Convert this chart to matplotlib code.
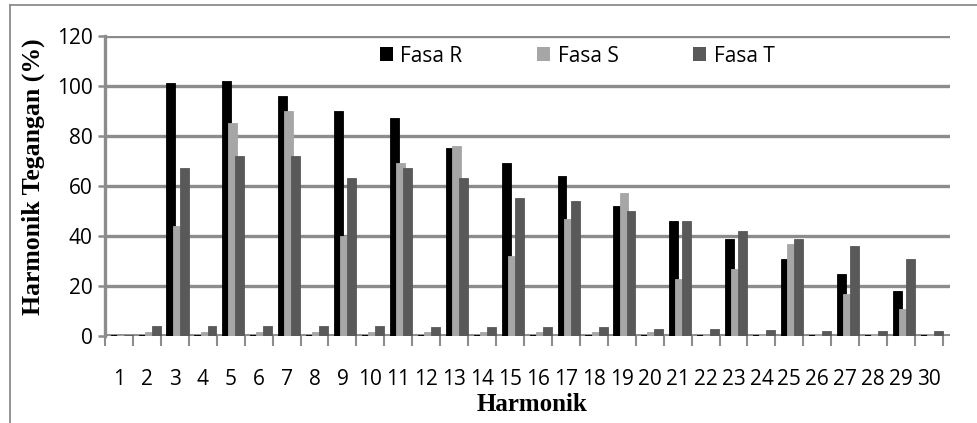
import matplotlib.pyplot as plt
from matplotlib.lines import Line2D
import numpy as np

harmonics = list(range(1, 31))

fasa_r = [0.5, 0.5, 101, 0.5, 102, 0.5, 96, 0.5, 90, 0.5,
          87, 0.5, 75, 0.5, 69, 0.5, 64, 0.5, 52, 0.5,
          46, 0.5, 39, 0.5, 31, 0.5, 25, 0.5, 18, 0.5]
fasa_s = [0.5, 1.5, 44, 1.5, 85, 1.5, 90, 1.5, 40, 1.5,
          69, 1.5, 76, 1.5, 32, 1.5, 47, 1.5, 57, 1.5,
          23, 1, 27, 1, 37, 1, 17, 1, 11, 1]
fasa_t = [0.5, 4, 67, 4, 72, 4, 72, 4, 63, 4,
          67, 3.5, 63, 3.5, 55, 3.5, 54, 3.5, 50, 3,
          46, 3, 42, 2.5, 39, 2, 36, 2, 31, 2]

series_names = ['Fasa R', 'Fasa S', 'Fasa T']
y_ticks = [0, 20, 40, 60, 80, 100, 120]

W, H = 978, 423
GRID = '#8c8c8c'


def px(x0, y0, w, h):
    # pixel box (from top-left) -> figure fraction
    return [x0 / W, 1 - (y0 + h) / H, w / W, h / H]


def make_chart():
    fig = plt.figure(figsize=(W / 100, H / 100), dpi=100)
    ax = fig.add_axes(px(105, 36, 845, 300))

    x = np.array(harmonics, dtype=float)
    colors = ['#000000', '#a6a6a6', '#595959']
    offsets = [-0.14, 0.08, 0.33]
    for i, (vals, name) in enumerate(zip([fasa_r, fasa_s, fasa_t], series_names)):
        ax.bar(x + offsets[i], vals, width=0.32, color=colors[i], label=name,
               edgecolor=colors[i], linewidth=0.6, zorder=3 + i)

    ax.set_xlim(0.5, 30.75)
    ax.set_ylim(0, 120)

    # gridlines / floor
    ax.set_yticks(y_ticks)
    ax.yaxis.grid(True, color=GRID, linewidth=2.4, zorder=0)
    ax.set_axisbelow(True)
    ax.axhline(0, color=GRID, linewidth=3.5, zorder=2)

    for side in ['top', 'right', 'bottom']:
        ax.spines[side].set_visible(False)
    ax.spines['left'].set_color(GRID)
    ax.spines['left'].set_linewidth(2.4)

    ax.tick_params(axis='y', length=5, width=1.8, color=GRID, labelsize=15, pad=4)

    # boundary ticks without labels, labels at category centres
    ax.set_xticks(np.arange(0.5, 31, 1.0))
    ax.set_xticklabels([])
    ax.tick_params(axis='x', which='major', direction='out', length=7, width=1.5, color=GRID)
    ax.set_xticks(x, minor=True)
    ax.set_xticklabels([str(h) for h in harmonics], minor=True)
    ax.tick_params(axis='x', which='minor', length=0, labelsize=15, pad=24)

    for lbl in ax.get_xticklabels(minor=True) + ax.get_yticklabels():
        lbl.set_family('Open Sans')

    leg = ax.legend(loc='center left', bbox_to_anchor=(380 / W, 1 - 56 / H),
                    bbox_transform=fig.transFigure, ncol=3, frameon=False,
                    prop={'family': 'Open Sans', 'size': 15},
                    handlelength=0.62, handleheight=0.62, handletextpad=0.35,
                    columnspacing=3.6, borderpad=0, borderaxespad=0)
    for hnd in leg.legend_handles:
        hnd.set_linewidth(0)

    fig.text(33 / W, 1 - 177 / H, 'Harmonik Tegangan (%)', rotation=90,
             ha='center', va='center', family='Liberation Serif',
             fontweight='bold', fontsize=18.5)
    fig.text(532 / W, 1 - 404 / H, 'Harmonik', ha='center', va='center',
             family='Liberation Serif', fontweight='bold', fontsize=18)

    # chart area border (top and left edges)
    fig.add_artist(Line2D([10 / W, 1.0], [1 - 5 / H, 1 - 5 / H],
                          transform=fig.transFigure, color=GRID, linewidth=1.3))
    fig.add_artist(Line2D([10 / W, 10 / W], [0.0, 1 - 5 / H],
                          transform=fig.transFigure, color=GRID, linewidth=1.3))

    fig.savefig('out.png', dpi=100)
    plt.close(fig)


make_chart()
